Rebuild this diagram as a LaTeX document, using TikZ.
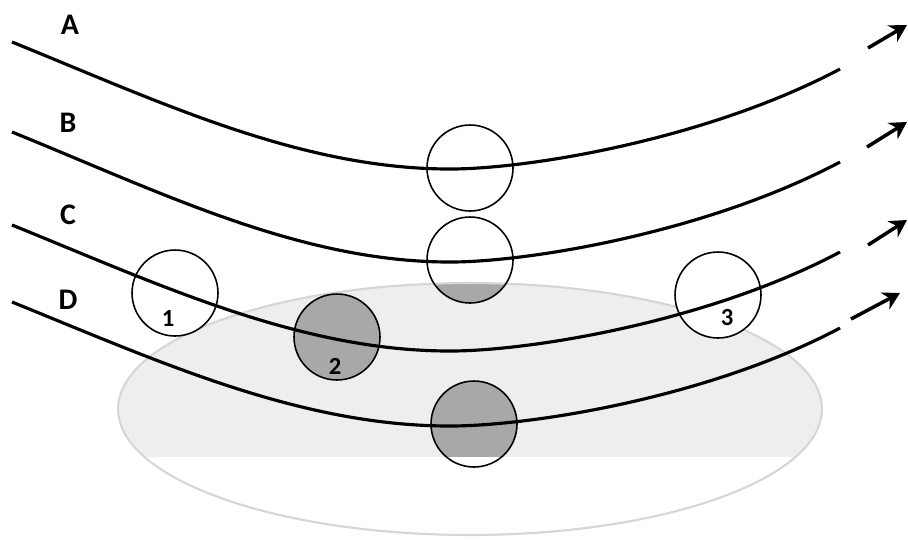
\documentclass[tikz,border=0pt]{standalone}
\usepackage{fontspec}
\setmainfont{Carlito}
\usepackage{tikz}
\usetikzlibrary{arrows.meta}
\definecolor{haze}{RGB}{238,238,238}
\definecolor{rim}{RGB}{214,214,214}
\definecolor{ashgray}{RGB}{168,168,168}
\tikzset{
  beam/.style={draw=black, line width=1.8pt},
  ring/.style={draw=black, line width=0.9pt, circle, minimum size=1.72cm, inner sep=0pt},
  zone/.style={draw=rim, line width=1.2pt},
  tag/.style={font=\bfseries\fontsize{17}{20}\selectfont, inner sep=0pt},
  num/.style={font=\bfseries\fontsize{14}{16}\selectfont, inner sep=0pt},
  dir/.style={draw=black, line width=2pt, -{Stealth[length=3.4mm,width=3.8mm]}}
}

\begin{document}
\begin{tikzpicture}[x=0.02cm, y=-0.02cm]
  \useasboundingbox (0,0) rectangle (908,539);

  % centres of the circles
  \coordinate (pa) at (470,168);
  \coordinate (pb) at (470,260);
  \coordinate (p1) at (175,293);
  \coordinate (p2) at (337,337);
  \coordinate (p3) at (718,295);
  \coordinate (pd) at (474,424);
  \coordinate (mid) at (470,409);

  % shaded zone
  \begin{scope}
    \clip (0,0) rectangle (908,456);
    \fill[haze] (mid) ellipse [x radius=7.04cm, y radius=2.52cm];
    \clip (mid) ellipse [x radius=7.04cm, y radius=2.52cm];
    \foreach \p in {pb,p2,pd}
      \fill[ashgray] (\p) circle [radius=0.86cm];
  \end{scope}
  \draw[zone] (mid) ellipse [x radius=7.04cm, y radius=2.52cm];

  % circles
  \node[ring] (ca) at (pa) {};
  \node[ring] (cb) at (pb) {};
  \node[ring, fill=white] (c1) at (p1) {};
  \node[ring] (c2) at (p2) {};
  \node[ring, fill=white] (c3) at (p3) {};
  \node[ring] (cd) at (pd) {};

  \node[num] (n1) at (168,318) {1};
  \node[num] (n2) at (335,366) {2};
  \node[num] (n3) at (727,318) {3};

  % paths
  \foreach \lab/\ys/\ym/\ye in {A/42/169/69, B/132/262/162, C/225/351/252, D/302/426/328}{
    \coordinate (\lab-s) at (12,\ys);
    \coordinate (\lab-m) at (450,\ym);
    \coordinate (\lab-e) at (840,\ye);
    \draw[beam] (\lab-s) .. controls +(148,60) and +(-150,0) .. (\lab-m)
      .. controls +(80,0) and +(-132,70) .. (\lab-e);
  }

  \node[tag] (lA) at (70,25) {A};
  \node[tag] (lB) at (68,123) {B};
  \node[tag] (lC) at (68,215) {C};
  \node[tag] (lD) at (68,300) {D};

  % directions
  \coordinate (A-t) at (868,48);  \coordinate (A-h) at (907,25);
  \coordinate (B-t) at (867,147); \coordinate (B-h) at (907,122);
  \coordinate (C-t) at (868,245); \coordinate (C-h) at (907,220);
  \coordinate (D-t) at (851,319); \coordinate (D-h) at (900,293);
  \foreach \lab in {A,B,C,D}
    \draw[dir] (\lab-t) -- (\lab-h);
\end{tikzpicture}
\end{document}
